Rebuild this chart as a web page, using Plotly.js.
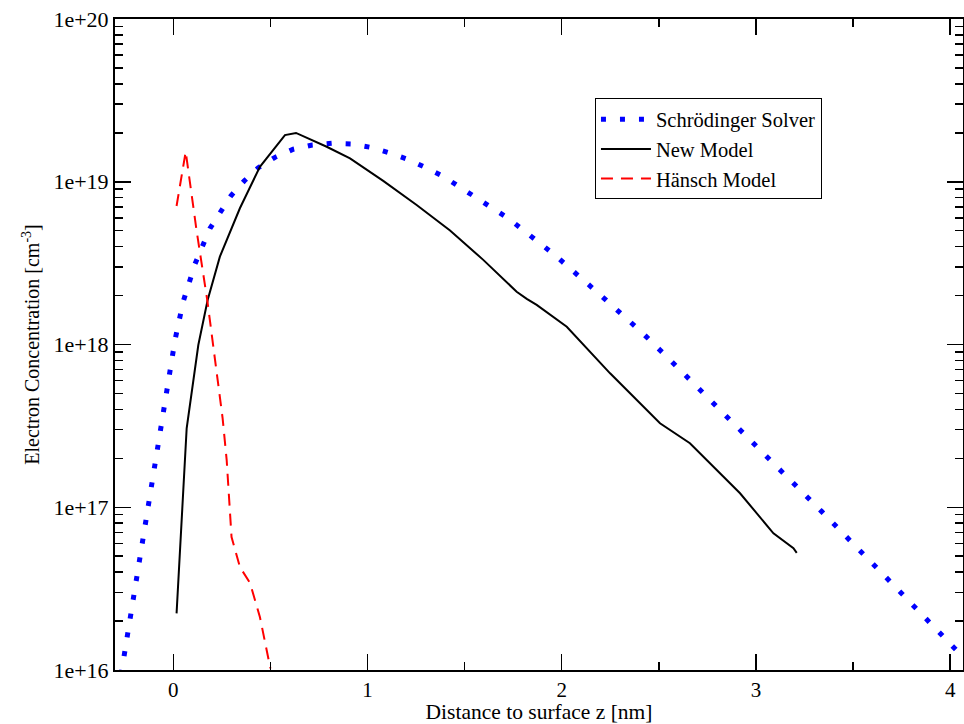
<!DOCTYPE html>
<html>
<head>
<meta charset="utf-8">
<script src="https://cdn.plot.ly/plotly-3.0.1.min.js"></script>
<style>html,body{margin:0;padding:0;background:#fff;}#chart{width:964px;height:724px;}</style>
</head>
<body>
<div id="chart"></div>
<script>
// Schrödinger Solver (blue dotted)
const schX = [-0.30, -0.263, -0.183, -0.103, -0.057, -0.007, 0.009, 0.051, 0.112, 0.189, 0.297, 0.366, 0.438, 0.524, 0.618, 0.716, 0.816, 0.915, 1.013, 1.111, 1.207, 1.296, 1.387, 1.725, 1.96, 2.188, 2.412, 2.558, 3.201, 3.339, 3.691, 4.039, 4.07];
const schLog = [15.74, 16.014, 16.608, 17.198, 17.556, 17.911, 18.028, 18.263, 18.495, 18.714, 18.914, 19.006, 19.086, 19.15, 19.2, 19.226, 19.236, 19.232, 19.212, 19.178, 19.138, 19.089, 19.035, 18.775, 18.554, 18.316, 18.075, 17.905, 17.143, 16.973, 16.543, 16.113, 16.075];

// New Model (black solid)
const newX = [0.017, 0.069, 0.129, 0.177, 0.24, 0.343, 0.446, 0.575, 0.632, 0.79, 0.91, 1.081, 1.253, 1.425, 1.596, 1.768, 1.82, 1.871, 2.026, 2.249, 2.506, 2.66, 2.918, 3.09, 3.193, 3.21];
const newLog = [16.348, 17.485, 17.997, 18.273, 18.54, 18.837, 19.092, 19.287, 19.30, 19.215, 19.144, 19.005, 18.857, 18.70, 18.52, 18.324, 18.28, 18.243, 18.109, 17.823, 17.516, 17.393, 17.086, 16.84, 16.748, 16.72];

// Hänsch Model (red dashed)
const hanX = [0.017, 0.064, 0.12, 0.175, 0.254, 0.275, 0.30, 0.343, 0.395, 0.446, 0.50];
const hanLog = [18.851, 19.185, 18.70, 18.273, 17.548, 17.29, 16.817, 16.633, 16.535, 16.326, 16.01];

const yTickVals = [1e16, 1e17, 1e18, 1e19, 1e20];
const yTickText = ["1e+16", "1e+17", "1e+18", "1e+19", "1e+20"];
const xTickVals = [0, 1, 2, 3, 4];
const xMinorVals = [0.5, 1.5, 2.5, 3.5];

const pow = a => a.map(v => Math.pow(10, v));
const yMinorVals = [];
for (let d = 16; d < 20; d++) for (let m = 2; m <= 9; m++) yMinorVals.push(m * Math.pow(10, d));

const font = "Liberation Serif, Times New Roman, serif";

const traces = [
  {x: schX, y: pow(schLog), name: "Schrödinger Solver", mode: "lines",
   line: {color: "#0000ff", width: 5, dash: "5px,14px"}},
  {x: newX, y: pow(newLog), name: "New Model", mode: "lines",
   line: {color: "#000000", width: 2}},
  {x: hanX, y: pow(hanLog), name: "Hänsch Model", mode: "lines",
   line: {color: "#ff0000", width: 2, dash: "12px,8px"}}
];

const layout = {
  width: 964, height: 724,
  margin: {l: 115, r: 1, t: 19, b: 54, pad: 0},
  paper_bgcolor: "#fff", plot_bgcolor: "#fff",
  font: {family: font, color: "#000", size: 20},
  showlegend: true,
  legend: {x: 0.566, y: 0.878, xanchor: "left", yanchor: "top",
    bordercolor: "#000", borderwidth: 1, bgcolor: "#fff",
    font: {family: font, size: 20.5, color: "#000"}, tracegroupgap: 0, itemwidth: 50},
  xaxis: {
    range: [-0.3, 4.066], showgrid: false, zeroline: false,
    showline: true, linecolor: "#000", linewidth: 2, mirror: "allticks",
    ticks: "inside", ticklen: 16, tickwidth: 1.5, tickcolor: "#000",
    tickmode: "array", tickvals: xTickVals, ticktext: xTickVals.map(String),
    tickfont: {family: font, size: 21},
    minor: {tickvals: xMinorVals, ticks: "inside", ticklen: 8, tickwidth: 1.5, tickcolor: "#000", showgrid: false},
    title: {text: "Distance to surface z [nm]", font: {family: font, size: 21.5}, standoff: 6}
  },
  yaxis: {
    type: "log", range: [16, 20], showgrid: false, zeroline: false,
    showline: true, linecolor: "#000", linewidth: 2, mirror: "allticks",
    ticks: "inside", ticklen: 16, tickwidth: 1.5, tickcolor: "#000",
    tickmode: "array", tickvals: yTickVals, ticktext: yTickText,
    tickfont: {family: font, size: 22},
    minor: {tickvals: yMinorVals, ticks: "inside", ticklen: 8, tickwidth: 1.5, tickcolor: "#000", showgrid: false},
    title: {text: "Electron Concentration [cm<sup>-3</sup>]", font: {family: font, size: 20}, standoff: 8}
  }
};

Plotly.newPlot("chart", traces, layout, {displayModeBar: false, staticPlot: true});
</script>
</body>
</html>
